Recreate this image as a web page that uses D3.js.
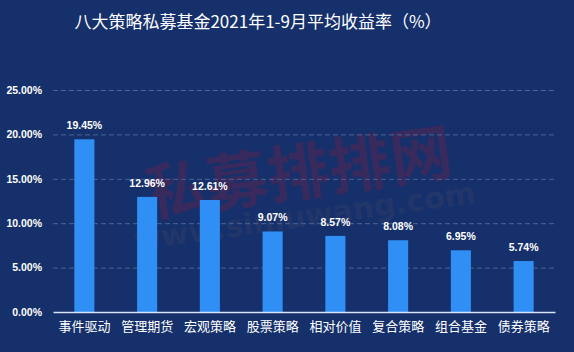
<!DOCTYPE html>
<meta charset="utf-8">
<style type="text/css">

body { margin: 0; background: #15306a; }

.title {
    fill: #fff;
    font-family: "Noto Sans CJK SC", sans-serif;
    font-size: 17px;
}

.y.axis text {
    fill: #fff;
    font-family: "Liberation Sans", sans-serif;
    font-weight: bold;
    font-size: 10.5px;
}

.x.axis text {
    fill: #fff;
    font-family: "Noto Sans CJK SC", sans-serif;
    font-size: 13px;
}

.grid line {
    stroke: #4a6597;
    stroke-dasharray: 5,3;
}

.bar { fill: #2f8ff5; }

.label {
    fill: #fff;
    font-family: "Liberation Sans", sans-serif;
    font-weight: bold;
    font-size: 10.5px;
}

</style>
<body>
</body>

<script src="https://d3js.org/d3.v7.min.js"></script>
<script>

var categories = ["事件驱动", "管理期货", "宏观策略", "股票策略", "相对价值", "复合策略", "组合基金", "债券策略"];
var values = [19.45, 12.96, 12.61, 9.07, 8.57, 8.08, 6.95, 5.74];
var yTicks = [0, 5, 10, 15, 20, 25];

var width = 574, height = 352;
var margin = {top: 90, left: 53, right: 19, bottom: 40};

var svg = d3.select("body").append("svg")
    .attr("width", width)
    .attr("height", height);

svg.append("rect")
    .attr("width", width)
    .attr("height", height)
    .attr("fill", "#15306a");

svg.append("text")
    .attr("class", "title")
    .attr("x", 258)
    .attr("y", 28)
    .attr("text-anchor", "middle")
    .text("八大策略私募基金2021年1-9月平均收益率（%）");

var xScale = d3.scaleBand()
    .domain(categories)
    .range([margin.left, width - margin.right])
    .paddingInner(0.68)
    .paddingOuter(0.34);

var yScale = d3.scaleLinear()
    .domain([0, 25])
    .range([height - margin.bottom, margin.top]);

// watermark
var wm = svg.append("g")
    .attr("transform", "translate(300,185) rotate(-8)");
wm.append("text")
    .attr("text-anchor", "middle")
    .attr("y", 10)
    .attr("fill", "#8a1f3a")
    .attr("fill-opacity", 0.3)
    .style("font-family", "Noto Sans CJK SC")
    .style("font-weight", "bold")
    .style("font-size", "62px")
    .text("私募排排网");
wm.append("text")
    .attr("text-anchor", "middle")
    .attr("y", 42)
    .attr("fill", "#4a4a6a")
    .attr("fill-opacity", 0.25)
    .style("font-family", "DejaVu Sans")
    .style("font-weight", "bold")
    .style("font-size", "30px")
    .text("www.simuwang.com");

svg.append("g")
    .attr("class", "grid")
    .selectAll("line")
    .data(yTicks.slice(1))
  .enter().append("line")
    .attr("x1", margin.left)
    .attr("x2", width - margin.right)
    .attr("y1", function(d) { return yScale(d) + 0.5; })
    .attr("y2", function(d) { return yScale(d) + 0.5; });

var yAxis = svg.append("g")
    .attr("class", "y axis")
    .attr("transform", "translate(" + (margin.left - 8) + ",0)")
    .call(d3.axisLeft(yScale).tickValues(yTicks).tickSize(0)
        .tickFormat(function(d) { return d.toFixed(2) + "%"; }));
yAxis.select(".domain").remove();

svg.selectAll(".bar")
    .data(values)
  .enter().append("rect")
    .attr("class", "bar")
    .attr("x", function(d, i) { return xScale(categories[i]); })
    .attr("width", xScale.bandwidth())
    .attr("y", function(d) { return yScale(d); })
    .attr("height", function(d) { return yScale(0) - yScale(d); });

svg.selectAll(".label")
    .data(values)
  .enter().append("text")
    .attr("class", "label")
    .attr("x", function(d, i) { return xScale(categories[i]) + xScale.bandwidth() / 2; })
    .attr("y", function(d) { return yScale(d) - 10; })
    .attr("text-anchor", "middle")
    .text(function(d) { return d.toFixed(2) + "%"; });

var xAxis = svg.append("g")
    .attr("class", "x axis")
    .attr("transform", "translate(0," + yScale(0) + ")")
    .call(d3.axisBottom(xScale).tickSize(0).tickPadding(10));
xAxis.select(".domain")
    .attr("stroke", "#d8e4f5")
    .attr("stroke-width", 1.5);

</script>
